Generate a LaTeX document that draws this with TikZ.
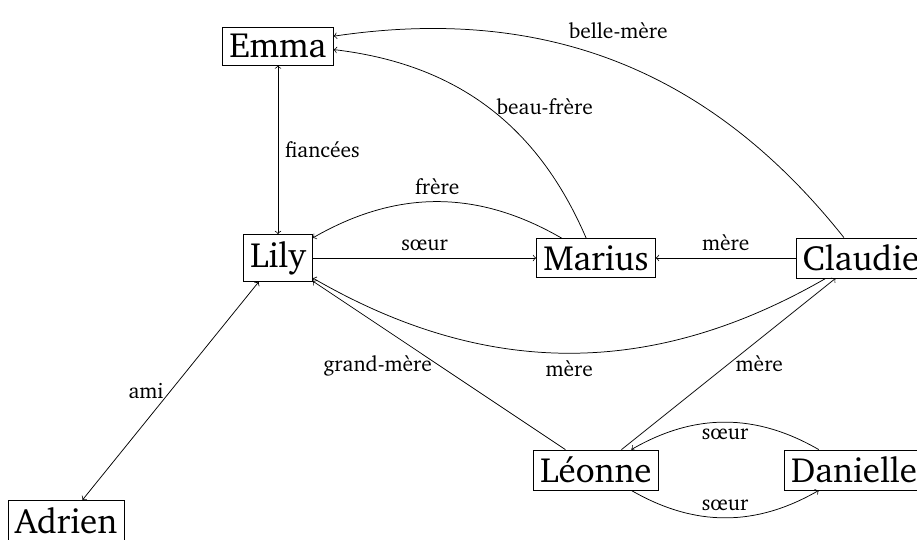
\documentclass[tikz,border=0pt,11pt]{standalone}
\usepackage[T1]{fontenc}
\usepackage{charter}

\begin{document}
\begin{tikzpicture}[font=\fontsize{11.5}{13.8}\selectfont,
    person/.style={draw,font=\fontsize{18.8}{22.6}\selectfont}]
    \useasboundingbox (-5.245,-5.302) rectangle (12.057,4.868);
    \def\dx{6}%Marius与Léonne的横坐标
    \def\ex{11}%Claudie与Danielle的横坐标
    \def\dy{4}%上下间距
    \node[person] (lily) at (0,0) {Lily};
    \node[person] (emma) at (0,\dy) {Emma};
    \node[person] (marius) at (\dx,0) {Marius};
    \node[person] (claudie) at (\ex,0) {Claudie};
    \node[person] (leonne) at (\dx,-\dy) {Léonne};
    \node[person] (danielle) at (\ex-0.13,-\dy) {Danielle};%右边框被裁掉
    \node[person] (adrien) at (-4,-4.95) {Adrien};%左下角，被裁掉一部分
    \draw[<->] (emma) -- (lily) node[midway,right] {fiancées};
    \draw[<->] (lily) -- (adrien) node[midway,left] {ami};
    \draw[->] (lily) -- (marius) node[midway,above] {s\oe ur};
    \draw[->] (marius) to[bend right=30] node[above] {frère} (lily);%上方的弧
    \draw[->] (marius) to[bend right=30] node[right=1pt] {beau-frère} (emma);
    \draw[->] (claudie) to[bend right=30] node[above=9pt] {belle-mère} (emma);
    \draw[->] (claudie) -- (marius) node[midway,above] {mère};
    \draw[->] (claudie) to[bend left=30] node[below] {mère} (lily);%下方的弧
    \draw[->] (leonne) -- (lily) node[midway,left] {grand-mère};
    \draw[->] (leonne) -- (claudie) node[midway,right] {mère};
    \draw[->] (danielle) to[bend right=30] node[below] {s\oe ur} (leonne);
    \draw[->] (leonne) to[bend right=30] node[above] {s\oe ur} (danielle);
\end{tikzpicture}
\end{document}
